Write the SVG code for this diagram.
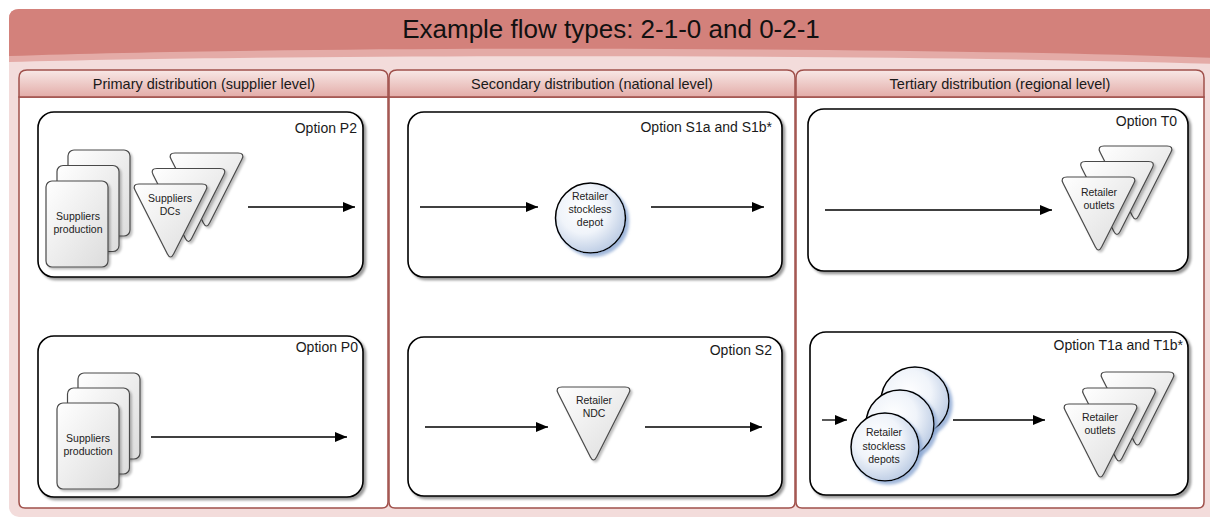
<svg xmlns="http://www.w3.org/2000/svg" xmlns:xlink="http://www.w3.org/1999/xlink" width="1210" height="518" viewBox="0 0 1210 518">
  <style>
    text { font-family: "Liberation Sans", Arial, sans-serif; fill: #1a1a1a; }
    .title { font-size: 26px; text-anchor: middle; fill: #111; }
    .lane-title { font-size: 14.5px; text-anchor: middle; }
    .opt { font-size: 14px; text-anchor: end; }
    .lbl { font-size: 10.5px; text-anchor: middle; fill: #222; }
    .lane-hd { fill: url(#laneHead); stroke: #a0504b; stroke-width: 1.5; }
    .lane-bd { fill: #ffffff; stroke: #a0504b; stroke-width: 1.5; }
    .box { fill: #ffffff; stroke: #000; stroke-width: 1.6; filter: url(#shadow); }
    .doc { fill: url(#greyFill); stroke: #4a4a4a; stroke-width: 1.2; filter: url(#softShadow); }
    .tri { fill: url(#greyFill); stroke: #4a4a4a; stroke-width: 1.2; filter: url(#softShadow); }
    .depot { fill: url(#blueFill); stroke: #000; stroke-width: 1.5; filter: url(#blueShadow); }
    .flow { stroke: #000; stroke-width: 1.3; fill: none; marker-end: url(#arrow); }
  </style>
  <defs>
    <linearGradient id="laneHead" x1="0" y1="0" x2="0" y2="1">
      <stop offset="0" stop-color="#f8e8e6"/>
      <stop offset="1" stop-color="#e3aca8"/>
    </linearGradient>
    <linearGradient id="greyFill" x1="0" y1="0" x2="1" y2="1">
      <stop offset="0" stop-color="#ffffff"/>
      <stop offset="1" stop-color="#dcdcdc"/>
    </linearGradient>
    <radialGradient id="blueFill" cx="0.4" cy="0.38" r="0.68">
      <stop offset="0" stop-color="#ffffff"/>
      <stop offset="0.5" stop-color="#f0f4fa"/>
      <stop offset="1" stop-color="#b7c8e2"/>
    </radialGradient>
    <filter id="shadow" x="-5%" y="-5%" width="112%" height="115%">
      <feDropShadow dx="2.5" dy="2.5" stdDeviation="1.2" flood-color="#000" flood-opacity="0.4"/>
    </filter>
    <filter id="softShadow" x="-10%" y="-10%" width="125%" height="125%">
      <feDropShadow dx="2" dy="2" stdDeviation="1.2" flood-color="#000" flood-opacity="0.25"/>
    </filter>
    <filter id="blueShadow" x="-15%" y="-15%" width="135%" height="135%">
      <feDropShadow dx="3" dy="3" stdDeviation="1.5" flood-color="#8aa6d2" flood-opacity="0.8"/>
    </filter>
    <marker id="arrow" markerUnits="userSpaceOnUse" markerWidth="13" markerHeight="11" refX="12" refY="5" orient="auto">
      <path d="M0,0 L12,5 L0,10 Z" fill="#000"/>
    </marker>
    <rect id="docShape" width="62" height="86" rx="6" ry="6"/>
    <path id="triShape" d="M7,0 L70,0 Q77,0 73.9,6.3 L41.6,70 Q38.5,76 35.4,70 L3.1,6.3 Q0,0 7,0 Z"/>
  </defs>

  <!-- outer pool with glossy header band -->
  <rect x="9" y="9" width="1215" height="508" rx="10" ry="10" fill="#f3dcdb"/>
  <path d="M9,19 Q9,9 19,9 L1215,9 L1215,64 C900,54 300,54 9,62 Z" fill="#e4aba7"/>
  <path d="M9,19 Q9,9 19,9 L1215,9 L1215,58 C900,46 300,46 9,56 Z" fill="#d3817b"/>
  <text class="title" x="611" y="38">Example flow types: 2-1-0 and 0-2-1</text>

  <!-- lanes -->
  <g id="lane-primary">
    <path class="lane-bd" d="M19,97 L388,97 L388,502 Q388,508 382,508 L25,508 Q19,508 19,502 Z"/>
    <path class="lane-hd" d="M19,97 L19,78 Q19,70 27,70 L380,70 Q388,70 388,78 L388,97 Z"/>
    <text class="lane-title" x="204" y="89">Primary distribution (supplier level)</text>
  </g>
  <g id="lane-secondary">
    <path class="lane-bd" d="M389,97 L795,97 L795,502 Q795,508 789,508 L395,508 Q389,508 389,502 Z"/>
    <path class="lane-hd" d="M389,97 L389,78 Q389,70 397,70 L787,70 Q795,70 795,78 L795,97 Z"/>
    <text class="lane-title" x="592" y="89">Secondary distribution (national level)</text>
  </g>
  <g id="lane-tertiary">
    <path class="lane-bd" d="M796,97 L1204,97 L1204,502 Q1204,508 1198,508 L802,508 Q796,508 796,502 Z"/>
    <path class="lane-hd" d="M796,97 L796,78 Q796,70 804,70 L1196,70 Q1204,70 1204,78 L1204,97 Z"/>
    <text class="lane-title" x="1000" y="89">Tertiary distribution (regional level)</text>
  </g>

  <!-- option boxes -->
  <g id="option-p2">
    <rect class="box" x="38" y="112" width="325" height="165" rx="16" ry="16"/>
    <text class="opt" x="357" y="133">Option P2</text>
  </g>
  <g id="option-p0">
    <rect class="box" x="38" y="336" width="325" height="161" rx="16" ry="16"/>
    <text class="opt" x="358" y="352">Option P0</text>
  </g>
  <g id="option-s1">
    <rect class="box" x="408" y="112" width="374" height="165" rx="16" ry="16"/>
    <text class="opt" x="772" y="132">Option S1a and S1b*</text>
  </g>
  <g id="option-s2">
    <rect class="box" x="408" y="337" width="374" height="159" rx="16" ry="16"/>
    <text class="opt" x="772" y="355">Option S2</text>
  </g>
  <g id="option-t0">
    <rect class="box" x="808" y="109" width="380" height="162" rx="16" ry="16"/>
    <text class="opt" x="1177" y="126">Option T0</text>
  </g>
  <g id="option-t1">
    <rect class="box" x="810" y="332" width="378" height="163" rx="16" ry="16"/>
    <text class="opt" x="1183" y="350">Option T1a and T1b*</text>
  </g>

  <!-- connectors -->
  <g id="connectors">
    <line class="flow" x1="248" y1="207" x2="355" y2="207"/>
    <line class="flow" x1="151" y1="437" x2="347" y2="437"/>
    <line class="flow" x1="420" y1="207" x2="538" y2="207"/>
    <line class="flow" x1="651" y1="207" x2="764" y2="207"/>
    <line class="flow" x1="425" y1="427" x2="548" y2="427"/>
    <line class="flow" x1="645" y1="427" x2="762" y2="427"/>
    <line class="flow" x1="825" y1="210" x2="1052" y2="210"/>
    <line class="flow" x1="822" y1="420" x2="847" y2="420"/>
    <line class="flow" x1="953" y1="420" x2="1045" y2="420"/>
  </g>

  <!-- nodes -->
  <g id="suppliers-production-p2">
    <use xlink:href="#docShape" class="doc" x="68" y="150"/>
    <use xlink:href="#docShape" class="doc" x="57" y="165.5"/>
    <use xlink:href="#docShape" class="doc" x="46" y="181"/>
    <text class="lbl" x="78" y="220">Suppliers</text>
    <text class="lbl" x="78" y="233">production</text>
  </g>
  <g id="suppliers-dcs">
    <use xlink:href="#triShape" class="tri" x="168" y="153"/>
    <use xlink:href="#triShape" class="tri" x="150" y="168.5"/>
    <use xlink:href="#triShape" class="tri" x="132" y="184"/>
    <text class="lbl" x="170" y="202">Suppliers</text>
    <text class="lbl" x="170" y="215">DCs</text>
  </g>
  <g id="suppliers-production-p0">
    <use xlink:href="#docShape" class="doc" x="78" y="373"/>
    <use xlink:href="#docShape" class="doc" x="67.5" y="388"/>
    <use xlink:href="#docShape" class="doc" x="57" y="403"/>
    <text class="lbl" x="88" y="442">Suppliers</text>
    <text class="lbl" x="88" y="455">production</text>
  </g>
  <g id="retailer-stockless-depot">
    <circle class="depot" cx="590.5" cy="218" r="35"/>
    <text class="lbl" x="590" y="200">Retailer</text>
    <text class="lbl" x="590" y="213">stockless</text>
    <text class="lbl" x="590" y="226">depot</text>
  </g>
  <g id="retailer-ndc">
    <use xlink:href="#triShape" class="tri" x="555" y="387"/>
    <text class="lbl" x="594" y="404">Retailer</text>
    <text class="lbl" x="594" y="417">NDC</text>
  </g>
  <g id="retailer-outlets-t0">
    <use xlink:href="#triShape" class="tri" x="1097" y="146"/>
    <use xlink:href="#triShape" class="tri" x="1078.5" y="161.5"/>
    <use xlink:href="#triShape" class="tri" x="1060" y="177"/>
    <text class="lbl" x="1099" y="196">Retailer</text>
    <text class="lbl" x="1099" y="209">outlets</text>
  </g>
  <g id="retailer-stockless-depots">
    <circle class="depot" cx="915" cy="401" r="34"/>
    <circle class="depot" cx="900" cy="424" r="34"/>
    <circle class="depot" cx="885" cy="447" r="34"/>
    <text class="lbl" x="884" y="436">Retailer</text>
    <text class="lbl" x="884" y="450">stockless</text>
    <text class="lbl" x="884" y="463">depots</text>
  </g>
  <g id="retailer-outlets-t1">
    <use xlink:href="#triShape" class="tri" x="1099" y="372"/>
    <use xlink:href="#triShape" class="tri" x="1080.5" y="388"/>
    <use xlink:href="#triShape" class="tri" x="1062" y="404"/>
    <text class="lbl" x="1100" y="421">Retailer</text>
    <text class="lbl" x="1100" y="434">outlets</text>
  </g>
</svg>
